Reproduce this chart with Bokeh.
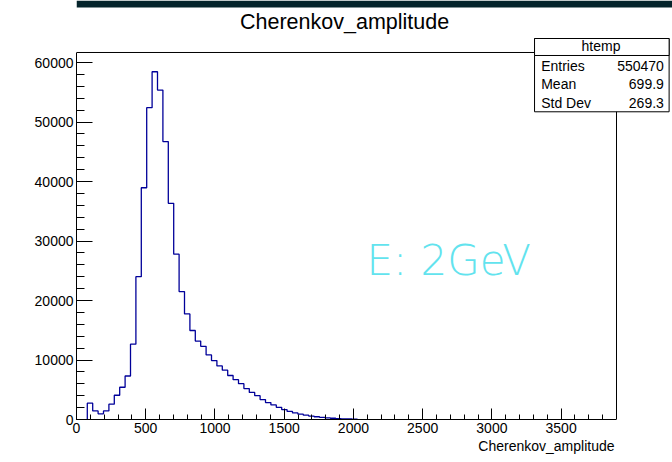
import numpy as np
from bokeh.plotting import figure
from bokeh.models import Range1d, FixedTicker, Label, BoxAnnotation, Title
from bokeh.embed import file_html
from bokeh.resources import INLINE

# ---- data ----
title_text = "Cherenkov_amplitude"
x_title = "Cherenkov_amplitude"
first_edge = 78.0
bin_width = 39.0
counts = [2740, 1450, 950, 1450, 2570, 4080, 5420, 7310, 12670, 24010,
          38960, 52430, 58460, 55380, 46730, 36350, 27800, 21500, 17750, 14960,
          13180, 12300, 10850, 9900, 9000, 8300, 7400, 6700, 6030, 5200,
          4550, 4000, 3350, 2850, 2450, 2050, 1650, 1350, 1100, 900,
          720, 580, 460, 360, 280, 210, 160, 120, 90, 60]
x_ticks = [0, 500, 1000, 1500, 2000, 2500, 3000, 3500]
x_minor = list(range(0, 3801, 100))
y_ticks = [0, 10000, 20000, 30000, 40000, 50000, 60000]
y_minor = list(range(0, 61701, 2000))
stat_title = "htemp"
stat_names = ["Entries", "Mean", "Std Dev"]
stat_values = ["550470", "699.9", "269.3"]
energy_text = "E: 2GeV"

# axis extents of the histogram frame
X_AX = 3900
Y_AX = 61700
# visible data window (frame extends beyond the axes so the stat box/title can overflow)
X_VIEW = 4304.4
Y_VIEW = 70442

p = figure(width=672, height=462, output_backend="svg", toolbar_location=None,
           x_range=Range1d(0, X_VIEW), y_range=Range1d(0, Y_VIEW),
           min_border_left=76, min_border_right=0, min_border_top=0, min_border_bottom=43)
p.background_fill_color = "white"
p.border_fill_color = "white"
p.outline_line_color = None
p.xgrid.visible = False
p.ygrid.visible = False

font = "Liberation Sans"

xa = p.xaxis[0]
xa.ticker = FixedTicker(ticks=x_ticks, minor_ticks=x_minor)
xa.bounds = (0, X_AX)
xa.major_tick_in = 11
xa.major_tick_out = 0
xa.minor_tick_in = 5
xa.minor_tick_out = 0
xa.major_label_standoff = 3
xa.major_label_text_font = font
xa.major_label_text_font_size = "14px"
xa.major_label_text_color = "black"
xa.axis_line_color = "black"
xa.major_tick_line_color = "black"
xa.minor_tick_line_color = "black"

ya = p.yaxis[0]
ya.ticker = FixedTicker(ticks=y_ticks, minor_ticks=y_minor)
ya.bounds = (0, Y_AX)
ya.major_tick_in = 16
ya.major_tick_out = 0
ya.minor_tick_in = 8
ya.minor_tick_out = 0
ya.major_label_standoff = 3
ya.major_label_text_font = font
ya.major_label_text_font_size = "14px"
ya.major_label_text_color = "black"
ya.axis_line_color = "black"
ya.major_tick_line_color = "black"
ya.minor_tick_line_color = "black"

# x-axis title, right-aligned at the end of the axis
p.add_layout(Title(text=x_title, align="right", offset=58, standoff=0,
                   text_font=font, text_font_size="14px", text_font_style="normal",
                   text_color="black"), "below")

# top and right frame lines
p.segment(x0=[0, X_AX], y0=[Y_AX, 0], x1=[X_AX, X_AX], y1=[Y_AX, Y_AX],
          line_color="black", line_width=1)

# ---- histogram as a step outline ----
edges = first_edge + bin_width * np.arange(len(counts) + 1)
xs = np.repeat(edges, 2)
ys = np.concatenate([[0], np.repeat(counts, 2), [0]])
p.line(xs, ys, line_color="#000099", line_width=1.3)

# dark page band at the top of the screenshot
p.add_layout(BoxAnnotation(bottom=69265, fill_color="#04242b", fill_alpha=1.0, line_alpha=0))

# ---- texts ----
p.add_layout(Label(x=1936, y=66777, text=title_text, text_align="center",
                   text_baseline="middle", text_font=font,
                   text_font_size="21.5px", text_color="black"))
p.add_layout(Label(x=2094, y=26681, text=energy_text, text_align="left",
                   text_baseline="middle", text_font="DejaVu Sans Light",
                   text_font_size="42px", text_color="#62e3ee"))

# ---- stat box ----
box_l, box_r, box_t, box_b, box_div = 3308, 4280, 64053, 51731, 61196
p.add_layout(BoxAnnotation(left=box_l, right=box_r, top=box_t, bottom=box_b,
                           fill_color="white", fill_alpha=1.0,
                           line_color="black", line_width=1, line_alpha=1.0))
p.add_layout(BoxAnnotation(left=box_l, right=box_r, top=box_t, bottom=box_div,
                           fill_color="white", fill_alpha=1.0,
                           line_color="black", line_width=1, line_alpha=1.0))
p.add_layout(Label(x=3788, y=62709, text=stat_title, text_align="center",
                   text_baseline="middle", text_font=font,
                   text_font_size="14px", text_color="black"))
rows_y = [59514, 56370, 53176]
for name, val, yy in zip(stat_names, stat_values, rows_y):
    p.add_layout(Label(x=3356, y=yy, text=name, text_align="left",
                       text_baseline="middle", text_font=font,
                       text_font_size="14px", text_color="black"))
    p.add_layout(Label(x=4242, y=yy, text=val, text_align="right",
                       text_baseline="middle", text_font=font,
                       text_font_size="14px", text_color="black"))

open("out.html", "w").write(file_html(p, INLINE))
